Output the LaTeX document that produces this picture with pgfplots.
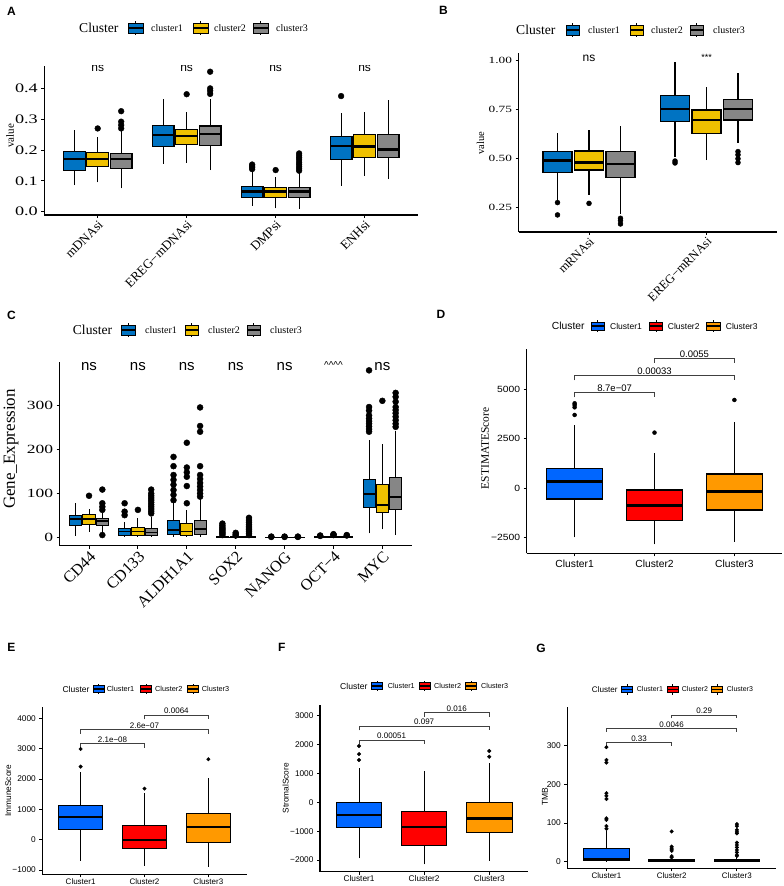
\documentclass[border=0pt]{standalone}
\usepackage{fontspec}
\setmainfont{Liberation Serif}
\newfontfamily\tmsW[FakeStretch=1.4]{Liberation Serif}
\newfontfamily\hv{Liberation Sans}
\newfontfamily\hvW[FakeStretch=1.15]{Liberation Sans}
\usepackage{pgfplots}
\pgfplotsset{compat=1.18}
\definecolor{c1}{HTML}{0073C2}
\definecolor{c2}{HTML}{EFC000}
\definecolor{c3}{HTML}{868686}
\definecolor{d1}{HTML}{0066FF}
\definecolor{d2}{HTML}{FF0000}
\definecolor{d3}{HTML}{FF9900}
\newcommand\fs[1]{\fontsize{#1}{#1}\selectfont}
% box: pos, left, right, lower whisker, Q1, median, Q3, upper whisker, colour
\newcommand\mbx[9]{%
 \addplot[black, boxst, no marks] coordinates {(#1,#4)(#1,#5)};
 \addplot[black, boxst, no marks] coordinates {(#1,#7)(#1,#8)};
 \addplot[fill=#9, draw=black, boxst, no marks] coordinates {(#2,#5)(#3,#5)(#3,#7)(#2,#7)} -- cycle;
 \addplot[black, medst, no marks] coordinates {(#2,#6)(#3,#6)};
}
\newcommand\T[4]{\node[anchor=#3,inner sep=0pt] at (#1,886-#2) {#4};}
\newcommand\lkey[5]{%
 \draw[line width=0.8pt,fill=#3] ({#1},{886-#2-#5/2}) rectangle ({#1+#4},{886-#2+#5/2});
 \draw[line width=1.1pt] ({#1},{886-#2}) -- ({#1+#4},{886-#2});
 \draw[line width=0.8pt] ({#1+#4/2},{886-#2+#5/2}) -- ({#1+#4/2},{886-#2+#5/2+2});
 \draw[line width=0.8pt] ({#1+#4/2},{886-#2-#5/2}) -- ({#1+#4/2},{886-#2-#5/2-2});
}
\pgfplotsset{
 every non boxed x axis/.append style={x axis line style=-},
 every non boxed y axis/.append style={y axis line style=-},
 om/.style={only marks, mark=*, black, mark size=#1, mark options={solid, fill=black}},
 br/.style={black!75, line width=0.8pt, no marks},
 boxst/.style={line width=1.1pt},
 medst/.style={line width=2.4pt},
 base/.style={scale only axis, anchor=south west, axis x line*=bottom, axis y line*=left,
   axis line style={line width=1.1pt, black}, tick align=outside, major tick length=3pt,
   tick style={line width=0.9pt, black}, clip=true},
}
\begin{document}
\begin{tikzpicture}[x=1pt,y=1pt]
\useasboundingbox[fill=white] (0,0) rectangle (784,886);

% ================= A =================
\begin{axis}[base, at={(44.3pt,671pt)}, width=373.7pt, height=149pt,
  xmin=0.4, xmax=4.6, ymin=-0.0107, ymax=0.4726,
  xtick={1,2,3,4}, xticklabels={mDNAsi,EREG−mDNAsi,DMPsi,ENHsi},
  ytick={0,0.1,0.2,0.3,0.4}, yticklabels={0.0,0.1,0.2,0.3,0.4},
  xticklabel style={rotate=45, anchor=north east, font=\fs{13}, inner sep=1pt},
  yticklabel style={font=\tmsW\fs{13}}]
\mbx{0.736}{0.614}{0.858}{0.086}{0.135}{0.171}{0.195}{0.264}{c1}
\mbx{1}{0.878}{1.122}{0.095}{0.146}{0.170}{0.191}{0.243}{c2}
\mbx{1.264}{1.142}{1.386}{0.076}{0.141}{0.170}{0.189}{0.262}{c3}
\mbx{1.736}{1.614}{1.858}{0.155}{0.211}{0.249}{0.279}{0.364}{c1}
\mbx{2}{1.878}{2.122}{0.159}{0.218}{0.245}{0.268}{0.322}{c2}
\mbx{2.264}{2.142}{2.386}{0.135}{0.216}{0.252}{0.278}{0.364}{c3}
\mbx{2.736}{2.614}{2.858}{0.019}{0.046}{0.065}{0.083}{0.130}{c1}
\mbx{3}{2.878}{3.122}{0.011}{0.045}{0.065}{0.078}{0.114}{c2}
\mbx{3.264}{3.142}{3.386}{0.009}{0.045}{0.065}{0.078}{0.124}{c3}
\mbx{3.736}{3.614}{3.858}{0.084}{0.168}{0.214}{0.243}{0.319}{c1}
\mbx{4}{3.878}{4.122}{0.117}{0.176}{0.211}{0.249}{0.322}{c2}
\mbx{4.264}{4.142}{4.386}{0.106}{0.175}{0.202}{0.251}{0.362}{c3}
\addplot[om=2.9pt] coordinates {(1,0.27) (1.264,0.27)(1.264,0.281)(1.264,0.292)(1.264,0.326)
 (2,0.381) (2.264,0.382)(2.264,0.392)(2.264,0.40)(2.264,0.454)
 (2.736,0.138)(2.736,0.143)(2.736,0.148)(2.736,0.153) (3,0.135)
 (3.264,0.133)(3.264,0.139)(3.264,0.146)(3.264,0.153)(3.264,0.160)(3.264,0.168)(3.264,0.175)(3.264,0.182)(3.264,0.189)
 (3.736,0.375)};
\node[font=\hv\fs{12}] at (axis cs:1,0.465) {ns};
\node[font=\hv\fs{12}] at (axis cs:2,0.465) {ns};
\node[font=\hv\fs{12}] at (axis cs:3,0.465) {ns};
\node[font=\hv\fs{12}] at (axis cs:4,0.465) {ns};
\end{axis}

% ================= B =================
\begin{axis}[base, at={(518.5pt,654pt)}, width=258.5pt, height=179pt,
  xmin=0.4, xmax=2.6, ymin=0.126, ymax=1.039,
  xtick={1,2}, xticklabels={mRNAsi,EREG−mRNAsi},
  ytick={0.25,0.5,0.75,1}, yticklabels={0.25,0.50,0.75,1.00},
  xticklabel style={rotate=45, anchor=north east, font=\fs{12.5}, inner sep=1pt},
  yticklabel style={font=\tmsW\fs{9.5}}]
\mbx{0.732}{0.6085}{0.8555}{0.289}{0.429}{0.490}{0.536}{0.633}{c1}
\mbx{1}{0.8765}{1.1235}{0.315}{0.442}{0.480}{0.539}{0.646}{c2}
\mbx{1.268}{1.1445}{1.3915}{0.22}{0.403}{0.473}{0.536}{0.667}{c3}
\mbx{1.732}{1.6085}{1.8555}{0.51}{0.689}{0.754}{0.82}{0.995}{c1}
\mbx{2}{1.8765}{2.1235}{0.493}{0.63}{0.697}{0.748}{0.867}{c2}
\mbx{2.268}{2.1445}{2.3915}{0.58}{0.697}{0.754}{0.803}{0.939}{c3}
\addplot[om=2.5pt] coordinates {(0.732,0.276)(0.732,0.213)(1,0.272)(1.268,0.196)(1.268,0.184)(1.268,0.167)
 (1.732,0.488)(1.732,0.478)(2.268,0.536)(2.268,0.52)(2.268,0.50)(2.268,0.48)};
\node[font=\hv\fs{12}] at (axis cs:1,1.014) {ns};
\node[font=\hv\fs{9}] at (axis cs:2,1.014) {***};
\end{axis}

% ================= C =================
\begin{axis}[base, at={(59.7pt,340.3pt)}, width=352pt, height=184pt,
  xmin=0.4, xmax=7.6, ymin=-18.1, ymax=398.6,
  xtick={1,2,3,4,5,6,7}, xticklabels={CD44,CD133,ALDH1A1,SOX2,NANOG,OCT−4,MYC},
  ytick={0,100,200,300}, yticklabels={0,100,200,300},
  xticklabel style={rotate=45, anchor=north east, font=\fs{16}, inner sep=1pt},
  yticklabel style={font=\tmsW\fs{12.5}},
  boxst/.style={line width=0.9pt}, medst/.style={line width=1.8pt}]
\mbx{0.728}{0.603}{0.853}{4}{27}{42}{51}{77.6}{c1}
\mbx{1}{0.875}{1.125}{14}{29}{42}{53}{66}{c2}
\mbx{1.272}{1.147}{1.397}{14}{27}{38}{44}{55}{c3}
\mbx{1.728}{1.603}{1.853}{2}{5}{14}{21}{36}{c1}
\mbx{2}{1.875}{2.125}{2}{6}{14}{23}{44}{c2}
\mbx{2.272}{2.147}{2.397}{2}{6}{12}{21}{47}{c3}
\mbx{2.728}{2.603}{2.853}{2}{8}{17}{38}{81}{c1}
\mbx{3}{2.875}{3.125}{2}{5}{14}{32}{63}{c2}
\mbx{3.272}{3.147}{3.397}{2}{8}{19}{40}{89}{c3}
\mbx{3.728}{3.603}{3.853}{0}{0.5}{1}{2}{4}{c1}
\mbx{4}{3.875}{4.125}{0}{0.3}{0.8}{1.5}{3}{c2}
\mbx{4.272}{4.147}{4.397}{0}{0.5}{1}{2}{4}{c3}
\mbx{4.728}{4.603}{4.853}{0}{0.1}{0.3}{0.6}{1.2}{c1}
\mbx{5}{4.875}{5.125}{0}{0.1}{0.3}{0.6}{1.2}{c2}
\mbx{5.272}{5.147}{5.397}{0}{0.1}{0.3}{0.6}{1.2}{c3}
\mbx{5.728}{5.603}{5.853}{0}{0.5}{1}{1.8}{3}{c1}
\mbx{6}{5.875}{6.125}{0}{1}{2}{3}{5}{c2}
\mbx{6.272}{6.147}{6.397}{0}{0.7}{1.5}{2.5}{4}{c3}
\mbx{6.728}{6.603}{6.853}{10}{69}{99}{132}{222}{c1}
\mbx{7}{6.875}{7.125}{19}{57}{74}{121}{213}{c2}
\mbx{7.272}{7.147}{7.397}{6}{63}{93}{136}{242}{c3}
\addplot[om=3pt] coordinates {(1,95)(1.272,109)(1.272,78)(1.272,70)(1.272,63)(1.272,6)
 (1.728,51)(1.728,59)(1.728,78)(2,63)(2.272,55)(2.272,60)(2.272,65)(2.272,70)(2.272,75)(2.272,80)(2.272,85)(2.272,90)(2.272,95)(2.272,100)(2.272,109)
 (2.728,85)(2.728,97)(2.728,108)(2.728,120)(2.728,131)(2.728,142)(2.728,162)(2.728,183)
 (3,78)(3,117)(3,138)(3,148)(3,159)(3,215)
 (3.272,93)(3.272,100)(3.272,108)(3.272,116)(3.272,124)(3.272,133)(3.272,142)(3.272,162)(3.272,240)(3.272,253)(3.272,295)
 (3.728,6)(3.728,9)(3.728,12)(3.728,15)(3.728,18)(3.728,21)(3.728,24)(3.728,28)(3.728,32)
 (4,5)(4,8)(4,11)
 (4.272,6)(4.272,10)(4.272,14)(4.272,18)(4.272,22)(4.272,26)(4.272,30)(4.272,35)(4.272,40)(4.272,45)
 (4.728,1.8)(4.728,2.5)(5,1.8)(5,2.5)(5.272,1.8)(5.272,2.5)
 (5.728,4)(5.728,5)(6,6)(6,7)(6,8)(6.272,5)(6.272,6)
 (6.728,240)(6.728,246)(6.728,252)(6.728,258)(6.728,264)(6.728,270)(6.728,277)(6.728,288)(6.728,296)(6.728,379)
 (7,310)
 (7.272,251)(7.272,258)(7.272,266)(7.272,274)(7.272,282)(7.272,289)(7.272,296)(7.272,308)(7.272,319)(7.272,328)};
\node[font=\hv\fs{15}] at (axis cs:1,388) {ns};
\node[font=\hv\fs{15}] at (axis cs:2,388) {ns};
\node[font=\hv\fs{15}] at (axis cs:3,388) {ns};
\node[font=\hv\fs{15}] at (axis cs:4,388) {ns};
\node[font=\hv\fs{15}] at (axis cs:5,388) {ns};
\node[font=\hv\fs{15}] at (axis cs:7,388) {ns};
\node[font=\hv\fs{10}, anchor=north, inner sep=0pt] at (axis cs:6,398.6) {\^{}\^{}\^{}\^{}};
\end{axis}

% ================= D =================
\begin{axis}[base, at={(526.7pt,332.7pt)}, width=255.6pt, height=204pt,
  xmin=0.4, xmax=3.6, ymin=-3279, ymax=7012,
  xtick={1,2,3}, xticklabels={Cluster1,Cluster2,Cluster3},
  ytick={-2500,0,2500,5000}, yticklabels={−2500,0,2500,5000},
  xticklabel style={font=\hv\fs{10.3}}, yticklabel style={font=\hvW\fs{9}},
  axis line style={line width=1.3pt},
  boxst/.style={line width=1.1pt}, medst/.style={line width=2.8pt}]
\mbx{1}{0.65}{1.35}{-2472}{-538}{336}{1009}{3195}{d1}
\mbx{2}{1.65}{2.35}{-2825}{-1631}{-874}{-84}{1766}{d2}
\mbx{3}{2.65}{3.35}{-2690}{-1093}{-151}{723}{3363}{d3}
\addplot[om=2pt] coordinates {(1,4288)(1,4204)(1,4086)(1,3700)(2,2808)(3,4456)};
\addplot[br] coordinates {(1,4590)(1,4826)(2,4826)(2,4590)};
\addplot[br] coordinates {(1,5448)(1,5684)(3,5684)(3,5448)};
\addplot[br] coordinates {(2,6322)(2,6558)(3,6558)(3,6322)};
\node[font=\hv\fs{9.5}, anchor=south, inner sep=0.8pt] at (axis cs:1.5,4826) {8.7e−07};
\node[font=\hv\fs{9.5}, anchor=south, inner sep=0.8pt] at (axis cs:2,5684) {0.00033};
\node[font=\hv\fs{9.5}, anchor=south, inner sep=0.8pt] at (axis cs:2.5,6558) {0.0055};
\end{axis}

% ================= E =================
\begin{axis}[base, at={(42.3pt,11.7pt)}, width=204.4pt, height=167pt,
  xmin=0.4, xmax=3.6, ymin=-1143, ymax=4363,
  xtick={1,2,3}, xticklabels={Cluster1,Cluster2,Cluster3},
  ytick={-1000,0,1000,2000,3000,4000}, yticklabels={−1000,0,1000,2000,3000,4000},
  xticklabel style={font=\hv\fs{8}, inner sep=1pt}, yticklabel style={font=\hv\fs{8.3}},
  boxst/.style={line width=1pt}, medst/.style={line width=2.3pt}]
\mbx{1}{0.6565}{1.3435}{-692}{319}{736}{1121}{2242}{d1}
\mbx{2}{1.6565}{2.3435}{-868}{-297}{-11}{473}{1528}{d2}
\mbx{3}{2.6565}{3.3435}{-890}{-99}{418}{857}{2022}{d3}
\addplot[om=1.8pt] coordinates {(1,2989)(1,2407)(2,1681)(3,2649)};
\addplot[br] coordinates {(1,3033)(1,3176)(2,3176)(2,3033)};
\addplot[br] coordinates {(1,3495)(1,3638)(3,3638)(3,3495)};
\addplot[br] coordinates {(2,3967)(2,4110)(3,4110)(3,3967)};
\node[font=\hv\fs{8}, anchor=south, inner sep=0.8pt] at (axis cs:1.5,3176) {2.1e−08};
\node[font=\hv\fs{8}, anchor=south, inner sep=0.8pt] at (axis cs:2,3638) {2.6e−07};
\node[font=\hv\fs{8}, anchor=south, inner sep=0.8pt] at (axis cs:2.5,4110) {0.0064};
\end{axis}

% ================= F =================
\begin{axis}[base, at={(320pt,14.3pt)}, width=208.3pt, height=166.7pt,
  xmin=0.4, xmax=3.6, ymin=-2407, ymax=3380,
  xtick={1,2,3}, xticklabels={Cluster1,Cluster2,Cluster3},
  ytick={-2000,-1000,0,1000,2000,3000}, yticklabels={−2000,−1000,0,1000,2000,3000},
  xticklabel style={font=\hv\fs{8.3}, inner sep=1pt}, yticklabel style={font=\hv\fs{8.3}},
  boxst/.style={line width=1pt}, medst/.style={line width=2.3pt}]
\mbx{1}{0.65}{1.35}{-1944}{-880}{-440}{0}{1181}{d1}
\mbx{2}{1.65}{2.35}{-2153}{-1481}{-845}{-313}{1088}{d2}
\mbx{3}{2.65}{3.35}{-2025}{-1042}{-556}{-12}{1354}{d3}
\addplot[om=1.8pt] coordinates {(1,1956)(1,1678)(1,1470)(3,1782)(3,1586)};
\addplot[br] coordinates {(1,2014)(1,2164)(2,2164)(2,2014)};
\addplot[br] coordinates {(1,2500)(1,2650)(3,2650)(3,2500)};
\addplot[br] coordinates {(2,2975)(2,3125)(3,3125)(3,2975)};
\node[font=\hv\fs{8}, anchor=south, inner sep=0.8pt] at (axis cs:1.5,2164) {0.00051};
\node[font=\hv\fs{8}, anchor=south, inner sep=0.8pt] at (axis cs:2,2650) {0.097};
\node[font=\hv\fs{8}, anchor=south, inner sep=0.8pt] at (axis cs:2.5,3125) {0.016};
\end{axis}

% ================= G =================
\begin{axis}[base, at={(567.3pt,17.7pt)}, width=208.7pt, height=161pt,
  xmin=0.4, xmax=3.6, ymin=-17.2, ymax=399,
  xtick={1,2,3}, xticklabels={Cluster1,Cluster2,Cluster3},
  ytick={0,100,200,300}, yticklabels={0,100,200,300},
  xticklabel style={font=\hv\fs{8}, inner sep=1pt}, yticklabel style={font=\hv\fs{8.4}},
  boxst/.style={line width=1pt}, medst/.style={line width=2.3pt}]
\mbx{1}{0.65}{1.35}{0}{2}{6}{34.5}{80}{d1}
\mbx{2}{1.65}{2.35}{0}{1}{3}{5}{9}{d2}
\mbx{3}{2.65}{3.35}{0}{1}{3}{6}{12}{d3}
\addplot[om=1.8pt] coordinates {(1,85)(1,92)(1,108)(1,112)(1,162)(1,170)(1,177)(1,256)(1,263)(1,296)
 (2,11)(2,14)(2,28)(2,32)(2,35)(2,39)(2,78)
 (3,15)(3,17)(3,24)(3,30)(3,37)(3,43)(3,49)(3,73)(3,77)(3,82)(3,92)(3,97)};
\addplot[br] coordinates {(1,299.1)(1,307.7)(2,307.7)(2,299.1)};
\addplot[br] coordinates {(1,336.2)(1,344.8)(3,344.8)(3,336.2)};
\addplot[br] coordinates {(2,370.4)(2,379)(3,379)(3,370.4)};
\node[font=\hv\fs{8}, anchor=south, inner sep=0.8pt] at (axis cs:1.5,307.7) {0.33};
\node[font=\hv\fs{8}, anchor=south, inner sep=0.8pt] at (axis cs:2,344.8) {0.0046};
\node[font=\hv\fs{8}, anchor=south, inner sep=0.8pt] at (axis cs:2.5,379) {0.29};
\end{axis}

% ============ panel letters ============
\node[font=\hv\bfseries\fs{12}] at (11.5,886-11) {A};
\node[font=\hv\bfseries\fs{12}] at (443.5,886-10) {B};
\node[font=\hv\bfseries\fs{12}] at (11.5,886-315) {C};
\node[font=\hv\bfseries\fs{12}] at (441,886-314) {D};
\node[font=\hv\bfseries\fs{12}] at (11.5,886-647.7) {E};
\node[font=\hv\bfseries\fs{12}] at (281.7,886-647.3) {F};
\node[font=\hv\bfseries\fs{12}] at (541,886-648.3) {G};

% ============ y labels ============
\node[rotate=90,inner sep=0pt,font=\fs{11}] at (10,886-135.8) {value};
\node[rotate=90,inner sep=0pt,font=\fs{10.5}] at (480.5,886-143.3) {value};
\node[rotate=90,inner sep=0pt,font=\fs{17}] at (11,886-449) {Gene\_Expression};
\node[rotate=90,inner sep=0pt,font=\fs{11.5}] at (485,886-448.3) {ESTIMATEScore};
\node[rotate=90,inner sep=0pt,font=\hv\fs{8.3}] at (8.3,886-790.8) {ImmuneScore};
\node[rotate=90,inner sep=0pt,font=\hv\fs{8.3}] at (285.7,886-788.3) {StromalScore};
\node[rotate=90,inner sep=0pt,font=\hv\fs{8.5}] at (545,886-796.7) {TMB};

% ============ legends ============
% A
\T{79}{28}{west}{\fs{13.6}Cluster}
\lkey{128}{28}{c1}{15}{10}\lkey{193}{28}{c2}{15}{10}\lkey{253}{28}{c3}{15}{10}
\T{151}{28}{west}{\fs{10}cluster1}\T{214}{28}{west}{\fs{10}cluster2}\T{276}{28}{west}{\fs{10}cluster3}
% B
\T{516}{30}{west}{\fs{13.6}Cluster}
\lkey{566}{30}{c1}{13}{10}\lkey{630}{30}{c2}{13}{10}\lkey{690}{30}{c3}{13}{10}
\T{588}{30}{west}{\fs{10}cluster1}\T{651}{30}{west}{\fs{10}cluster2}\T{713}{30}{west}{\fs{10}cluster3}
% C
\T{72.7}{330}{west}{\fs{13.6}Cluster}
\lkey{121.7}{330}{c1}{13.5}{10}\lkey{185}{330}{c2}{13.5}{10}\lkey{247}{330}{c3}{13.5}{10}
\T{145}{330}{west}{\fs{10}cluster1}\T{208}{330}{west}{\fs{10}cluster2}\T{270}{330}{west}{\fs{10}cluster3}
% D
\T{551.7}{326}{west}{\hv\fs{10.3}Cluster}
\lkey{591}{326}{d1}{13.3}{8}\lkey{649.3}{326}{d2}{13.3}{8}\lkey{706.7}{326}{d3}{13.3}{8}
\T{610}{326}{west}{\hv\fs{8.5}Cluster1}\T{667.7}{326}{west}{\hv\fs{8.5}Cluster2}\T{725.7}{326}{west}{\hv\fs{8.5}Cluster3}
% E
\T{62.3}{689}{west}{\hv\fs{8.5}Cluster}
\lkey{93.3}{689}{d1}{11}{6.5}\lkey{140.7}{689}{d2}{11}{6.5}\lkey{187.7}{689}{d3}{11}{6.5}
\T{106.7}{689}{west}{\hv\fs{7.3}Cluster1}\T{155}{689}{west}{\hv\fs{7.3}Cluster2}\T{201.7}{689}{west}{\hv\fs{7.3}Cluster3}
% F
\T{340}{686}{west}{\hv\fs{8.6}Cluster}
\lkey{371.7}{686}{d1}{11}{6.5}\lkey{419}{686}{d2}{11}{6.5}\lkey{465.7}{686}{d3}{11}{6.5}
\T{387.7}{686}{west}{\hv\fs{7.2}Cluster1}\T{434}{686}{west}{\hv\fs{7.2}Cluster2}\T{481}{686}{west}{\hv\fs{7.2}Cluster3}
% G
\T{591.7}{689.3}{west}{\hv\fs{8.1}Cluster}
\lkey{621.7}{689.3}{d1}{10.6}{6.5}\lkey{667.3}{689.3}{d2}{10.6}{6.5}\lkey{711.7}{689.3}{d3}{10.6}{6.5}
\T{636.7}{689.3}{west}{\hv\fs{7}Cluster1}\T{681.7}{689.3}{west}{\hv\fs{7}Cluster2}\T{726.7}{689.3}{west}{\hv\fs{7}Cluster3}
\end{tikzpicture}
\end{document}
